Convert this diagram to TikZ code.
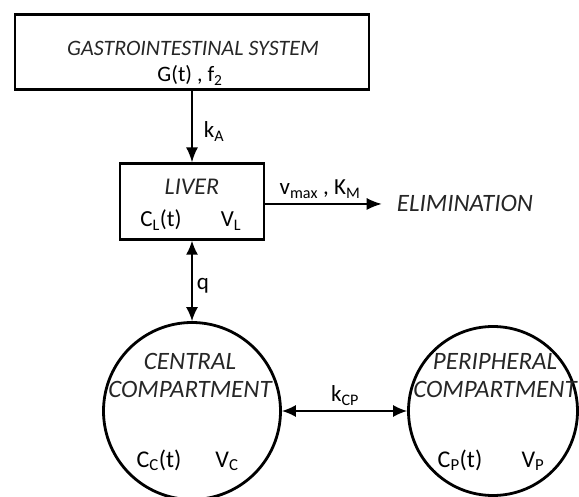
\documentclass[tikz,border=0pt]{standalone}
\usepackage{fontspec}
\setmainfont{Carlito}
\usetikzlibrary{arrows.meta}
\begin{document}
\begin{tikzpicture}[x=1pt,y=-1pt]
	\tikzstyle{every node}=[inner sep=0pt]
	\tikzstyle{box}=[draw,line width=2.4pt,rectangle]
	\tikzstyle{comp}=[draw,line width=2.8pt,circle]
	\tikzstyle{title}=[font=\fontsize{25}{29}\selectfont\itshape,text=black!85,anchor=base]
	\tikzstyle{param}=[font=\fontsize{23}{27}\selectfont,anchor=base]
	\tikzstyle{flow}=[line width=1.5pt,-{Latex[length=15pt,width=12pt]}]
	\tikzstyle{exchange}=[line width=1.5pt,{Latex[length=14pt,width=12pt]}-{Latex[length=14pt,width=12pt]}]
	\useasboundingbox (0,0) rectangle (579,497);
	\node[box,minimum width=354pt,minimum height=75pt] (gis) at (192,52) {};
	\node[title,font=\fontsize{22}{26}\selectfont\itshape] (gistitle) at (193,56) {GASTROINTESTINAL SYSTEM};
	\node[param,font=\fontsize{22}{26}\selectfont] (gisparam) at (190,82) {G(t) , f\textsubscript{2}};
	\node[box,minimum width=144pt,minimum height=76pt] (liver) at (192,201.5) {};
	\node[title,font=\fontsize{24}{28}\selectfont\itshape] (livertitle) at (192,195) {LIVER};
	\node[param] (cl) at (161,227) {C\textsubscript{L}(t)};
	\node[param] (vl) at (231,227) {V\textsubscript{L}};
	\node[param] (ka) at (214,138) {k\textsubscript{A}};
	\node[param] (vk) at (320,195) {v\textsubscript{max} , K\textsubscript{M}};
	\node[title] (elim) at (465,212) {ELIMINATION};
	\node[param] (q) at (203,290) {q};
	\node[comp,minimum size=177pt] (central) at (192,411) {};
	\node[title] (ctitle) at (190,370) {CENTRAL};
	\node[title] (ccomp) at (190,398) {COMPARTMENT};
	\node[param,font=\fontsize{24}{28}\selectfont] (cc) at (159,467) {C\textsubscript{C}(t)};
	\node[param,font=\fontsize{24}{28}\selectfont] (vc) at (227,467) {V\textsubscript{C}};
	\node[comp,minimum size=169pt] (peripheral) at (493,411) {};
	\node[title] (ptitle) at (495,370) {PERIPHERAL};
	\node[title] (pcomp) at (495,398) {COMPARTMENT};
	\node[param,font=\fontsize{24}{28}\selectfont] (cp) at (460,467) {C\textsubscript{P}(t)};
	\node[param,font=\fontsize{24}{28}\selectfont] (vp) at (533,467) {V\textsubscript{P}};
	\node[param] (kcp) at (345,402) {k\textsubscript{CP}};
	\draw[flow] (gis.south) -- (liver.north);
	\draw[flow,shorten >=15pt] (liver.east |- elim.west) -- (elim.west);
	\draw[exchange] (liver.south) -- (central.north);
	\draw[exchange] (central.east) -- (peripheral.west);
\end{tikzpicture}
\end{document}
